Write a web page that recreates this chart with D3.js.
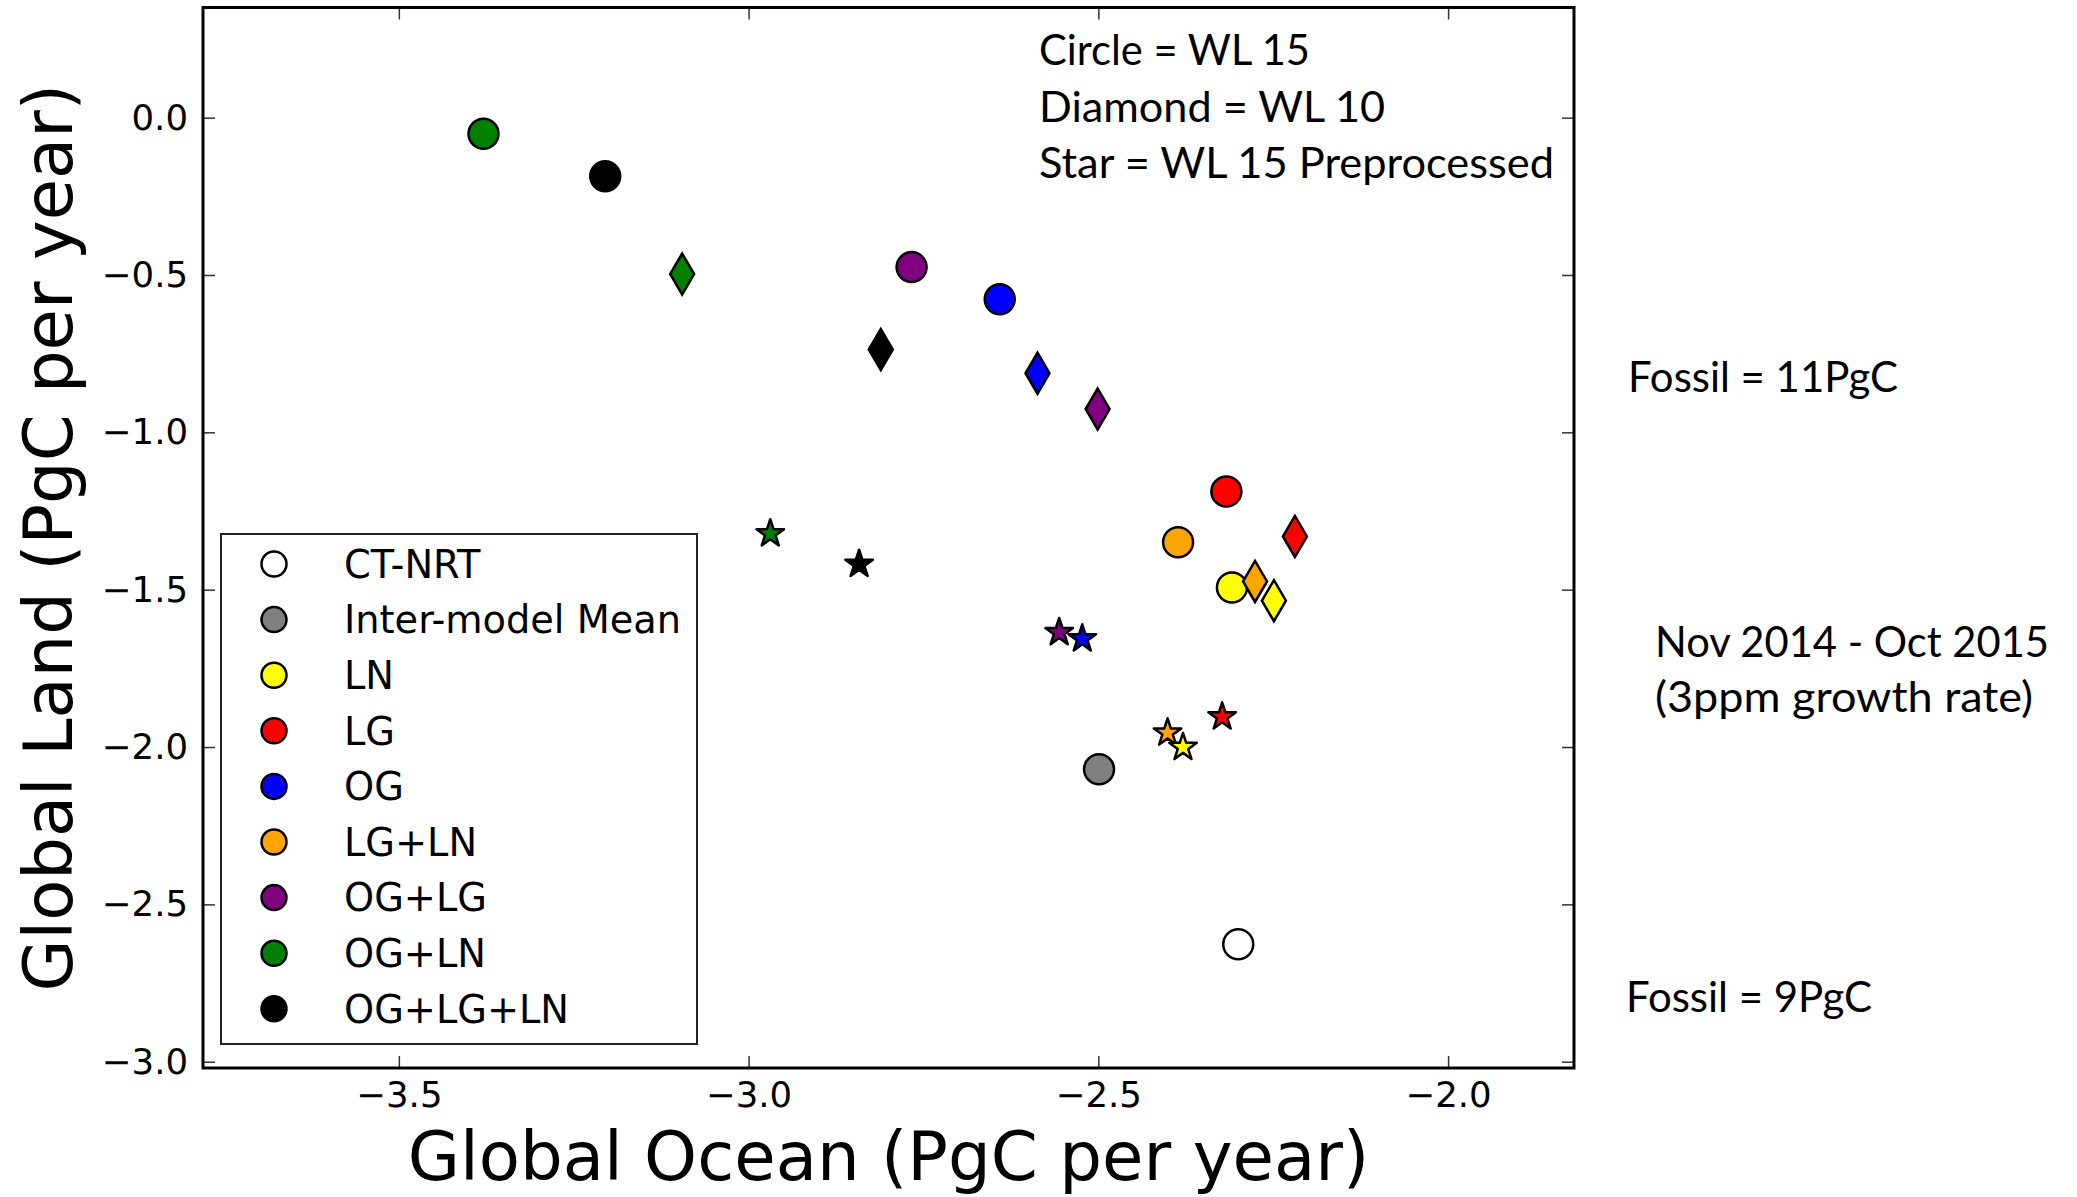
<!DOCTYPE html>
<html>
<head>
<meta charset="utf-8">
<script src="https://cdn.jsdelivr.net/npm/d3@7"></script>
<style>
  html, body { margin: 0; padding: 0; background: #fff; }
  svg { display: block; }
</style>
</head>
<body>
<svg id="chart" width="2077" height="1197"></svg>
<script>
// ---- Data: global carbon flux estimates (PgC per year) ----
const categories = ["CT-NRT", "Inter-model Mean", "LN", "LG", "OG", "LG+LN", "OG+LG", "OG+LN", "OG+LG+LN"];
const seriesColors = ["#ffffff", "#808080", "#ffff00", "#ff0000", "#0000ff", "#ffa500", "#800080", "#008000", "#000000"];

// Circle = WL 15
const circleOcean = [-2.300, -2.499, -2.309, -2.317, -2.641, -2.386, -2.767, -3.379, -3.205];
const circleLand  = [-2.627, -2.071, -1.493, -1.188, -0.577, -1.349, -0.475, -0.051, -0.186];

// Diamond = WL 10
const diamondOcean = [null, null, -2.249, -2.219, -2.587, -2.276, -2.501, -3.095, -2.811];
const diamondLand  = [null, null, -1.535, -1.331, -0.812, -1.474, -0.926, -0.497, -0.737];

// Star = WL 15 Preprocessed
const starOcean = [null, null, -2.379, -2.323, -2.523, -2.401, -2.556, -2.969, -2.842];
const starLand  = [null, null, -2.001, -1.904, -1.656, -1.955, -1.636, -1.322, -1.419];

const xTicks = [-3.5, -3.0, -2.5, -2.0];
const yTicks = [0.0, -0.5, -1.0, -1.5, -2.0, -2.5, -3.0];
const xDomain = [-3.78, -1.82];
const yDomain = [-3.02, 0.35];

const xTitle = "Global Ocean (PgC per year)";
const yTitle = "Global Land (PgC per year)";
const markerNotes = ["Circle = WL 15", "Diamond = WL 10", "Star = WL 15 Preprocessed"];
const sideNotes = ["Fossil = 11PgC", "Nov 2014 - Oct 2015", "(3ppm growth rate)", "Fossil = 9PgC"];

// ---- Layout ----
const plot = { left: 203, right: 1574, top: 7.5, bottom: 1068 };
const mainFont = "'DejaVu Sans', sans-serif";
const noteFont = "Lato, 'Open Sans', sans-serif";

const svg = d3.select("#chart");
svg.append("rect").attr("width", 2077).attr("height", 1197).attr("fill", "#fff");

const x = d3.scaleLinear().domain(xDomain).range([plot.left, plot.right]);
const y = d3.scaleLinear().domain(yDomain).range([plot.bottom, plot.top]);
const fmt = d3.format(".1f");

// ---- Axes (ticks point inward on all four sides) ----
const tickLen = 12;
function styleAxis(g, showText) {
  g.select(".domain").remove();
  g.selectAll(".tick line").attr("stroke", "#333").attr("stroke-width", 1.5);
  if (showText) {
    g.selectAll(".tick text").attr("font-family", mainFont).attr("font-size", 35.5).attr("fill", "#000");
  } else {
    g.selectAll(".tick text").remove();
  }
}

svg.append("g")
  .attr("transform", `translate(0,${plot.bottom})`)
  .call(d3.axisBottom(x).tickValues(xTicks).tickFormat(fmt).tickSizeInner(-tickLen).tickSizeOuter(0).tickPadding(14))
  .call(g => styleAxis(g, true));

svg.append("g")
  .attr("transform", `translate(0,${plot.top})`)
  .call(d3.axisTop(x).tickValues(xTicks).tickSizeInner(-tickLen).tickSizeOuter(0))
  .call(g => styleAxis(g, false));

svg.append("g")
  .attr("transform", `translate(${plot.left},0)`)
  .call(d3.axisLeft(y).tickValues(yTicks).tickFormat(fmt).tickSizeInner(-tickLen).tickSizeOuter(0).tickPadding(15))
  .call(g => styleAxis(g, true));

svg.append("g")
  .attr("transform", `translate(${plot.right},0)`)
  .call(d3.axisRight(y).tickValues(yTicks).tickSizeInner(-tickLen).tickSizeOuter(0))
  .call(g => styleAxis(g, false));

// Frame
svg.append("rect")
  .attr("x", plot.left).attr("y", plot.top)
  .attr("width", plot.right - plot.left).attr("height", plot.bottom - plot.top)
  .attr("fill", "none").attr("stroke", "#000").attr("stroke-width", 3);

// ---- Axis titles ----
svg.append("text")
  .attr("x", (plot.left + plot.right) / 2).attr("y", 1180)
  .attr("text-anchor", "middle")
  .attr("font-family", mainFont).attr("font-size", 67.4)
  .text(xTitle);

svg.append("text")
  .attr("transform", `translate(72,${(plot.top + plot.bottom) / 2}) rotate(-90)`)
  .attr("text-anchor", "middle")
  .attr("font-family", mainFont).attr("font-size", 67.2)
  .text(yTitle);

// ---- Marker shapes ----
function diamondPath(h, w) {
  return `M0,${-h}L${w},0L0,${h}L${-w},0Z`;
}
function starPath(R) {
  const r = R * 0.381966;
  const pts = [];
  for (let i = 0; i < 10; i++) {
    const a = -Math.PI / 2 + i * Math.PI / 5;
    const rad = i % 2 === 0 ? R : r;
    pts.push([rad * Math.cos(a), rad * Math.sin(a)]);
  }
  return "M" + pts.map(p => p[0].toFixed(2) + "," + p[1].toFixed(2)).join("L") + "Z";
}

// Build point records; later entries are painted on top
function records(ox, oy) {
  return categories.map((c, i) => ({ name: c, color: seriesColors[i], ox: ox[i], oy: oy[i] }))
    .filter(d => d.ox != null && d.oy != null)
    .reverse();
}

const marks = svg.append("g");

marks.selectAll("circle.wl15")
  .data(records(circleOcean, circleLand))
  .join("circle")
  .attr("class", "wl15")
  .attr("cx", d => x(d.ox)).attr("cy", d => y(d.oy))
  .attr("r", 15)
  .attr("fill", d => d.color).attr("stroke", "#000").attr("stroke-width", 2.5);

marks.selectAll("path.wl10")
  .data(records(diamondOcean, diamondLand))
  .join("path")
  .attr("class", "wl10")
  .attr("transform", d => `translate(${x(d.ox)},${y(d.oy)})`)
  .attr("d", diamondPath(20.5, 12))
  .attr("fill", d => d.color).attr("stroke", "#000").attr("stroke-width", 2.5)
  .attr("stroke-linejoin", "miter");

marks.selectAll("path.pre")
  .data(records(starOcean, starLand))
  .join("path")
  .attr("class", "pre")
  .attr("transform", d => `translate(${x(d.ox)},${y(d.oy)})`)
  .attr("d", starPath(14.5))
  .attr("fill", d => d.color).attr("stroke", "#000").attr("stroke-width", 2.5)
  .attr("stroke-linejoin", "round");

// ---- Legend ----
const legend = svg.append("g");
legend.append("rect")
  .attr("x", 221).attr("y", 534).attr("width", 476).attr("height", 510)
  .attr("fill", "#fff").attr("stroke", "#222").attr("stroke-width", 2);

const rowY = i => 564 + i * 55.6;
const rows = legend.selectAll("g.row")
  .data(categories.map((c, i) => ({ name: c, color: seriesColors[i], i })))
  .join("g").attr("class", "row");
rows.append("circle")
  .attr("cx", 274).attr("cy", d => rowY(d.i)).attr("r", 12.5)
  .attr("fill", d => d.color).attr("stroke", "#000").attr("stroke-width", 2.5);
rows.append("text")
  .attr("x", 344).attr("y", d => rowY(d.i) + 13.8)
  .attr("font-family", mainFont).attr("font-size", 38.3)
  .text(d => d.name);

// ---- Annotations ----
const noteWidths = [271, 346, 515];
const noteBase = [65, 122, 178];
svg.selectAll("text.note")
  .data(markerNotes)
  .join("text").attr("class", "note")
  .attr("x", 1039).attr("y", (d, i) => noteBase[i])
  .attr("font-family", noteFont).attr("font-size", 42)
  .attr("textLength", (d, i) => noteWidths[i]).attr("lengthAdjust", "spacingAndGlyphs")
  .text(d => d);

const sidePos = [
  { x: 1628, y: 392, w: 270 },
  { x: 1655, y: 657, w: 394 },
  { x: 1655, y: 712, w: 378 },
  { x: 1626, y: 1012, w: 246 }
];
svg.selectAll("text.side")
  .data(sideNotes)
  .join("text").attr("class", "side")
  .attr("x", (d, i) => sidePos[i].x).attr("y", (d, i) => sidePos[i].y)
  .attr("font-family", noteFont).attr("font-size", 42)
  .attr("textLength", (d, i) => sidePos[i].w).attr("lengthAdjust", "spacingAndGlyphs")
  .text(d => d);
</script>
</body>
</html>
